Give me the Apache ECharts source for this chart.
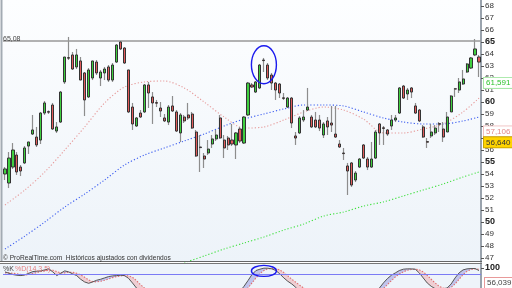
<!DOCTYPE html>
<html><head><meta charset="utf-8">
<script src="https://cdn.jsdelivr.net/npm/echarts@6/dist/echarts.min.js"></script>
<style>html,body{margin:0;padding:0;background:#fff}#c{width:512px;height:288px}</style>
</head><body><div id="c"></div>
<script>
// ---- data ----
const categories = Array.from({length:120},(_,i)=>String(i+1));
const open = [54.0,53.25,54.58,55.58,54.58,54.92,56.33,57.33,57.08,56.83,
59.08,59.2,59.75,57.58,58.33,61.67,63.7,63.92,62.92,63.42,
62.42,60.42,62.0,63.33,62.0,62.42,62.92,61.83,63.33,65.0,
64.5,62.67,59.58,58.0,59.08,59.17,61.42,60.42,59.95,59.5,
58.67,58.33,59.67,59.17,57.42,58.75,58.92,59.0,57.5,56.25,
55.5,55.75,56.5,56.92,58.67,56.83,57.0,56.83,56.42,57.75,
56.58,58.92,61.42,60.83,61.17,63.5,63.08,62.25,61.58,61.5,
60.35,59.58,60.33,57.17,57.42,58.5,59.33,58.75,58.5,58.5,
57.25,58.42,58.25,57.33,56.5,55.75,54.67,54.92,53.5,54.58,
56.42,55.25,54.58,55.33,58.17,57.85,57.67,58.0,58.5,59.08,
61.33,60.67,61.17,59.67,59.33,57.92,56.7,57.17,57.42,58.2,
57.75,57.5,59.17,61.1,61.0,61.5,62.5,62.83,63.92,63.75];
const close = [54.42,55.33,56.0,54.17,54.25,56.17,56.67,57.67,56.42,59.08,
59.92,59.15,57.75,57.92,60.83,63.75,63.65,62.75,63.92,61.83,
60.17,62.67,63.42,62.42,62.5,62.75,61.83,63.08,64.75,64.42,
63.25,59.17,58.17,58.67,58.75,61.42,60.75,59.92,59.9,59.25,
58.42,59.58,59.25,57.58,58.92,58.42,58.67,57.83,55.5,56.2,
55.25,56.08,56.92,57.25,57.0,56.17,56.42,56.5,57.42,56.75,
58.75,61.58,61.25,61.67,63.08,63.45,62.0,61.58,61.0,60.75,
60.3,60.33,58.25,57.0,58.67,58.75,59.58,57.92,57.92,57.83,
58.17,57.92,58.08,57.08,56.25,55.7,54.25,53.08,54.08,55.25,
55.33,54.58,55.25,57.5,57.42,57.8,57.33,58.5,58.67,61.17,
60.33,61.0,60.83,59.08,58.42,57.08,56.65,57.5,57.83,58.15,
57.08,58.75,60.5,61.08,61.67,61.92,63.17,63.67,64.42,63.33];
const low = [53.5,52.83,54.42,53.92,53.83,54.83,55.67,57.25,56.25,56.5,
58.92,59.0,57.67,57.42,58.25,61.5,63.5,62.67,62.75,61.83,
58.83,60.33,61.83,62.25,61.33,61.83,61.67,61.67,63.25,64.33,
63.17,59.08,57.67,57.92,58.67,59.08,59.5,58.17,59.58,58.75,
58.33,58.08,59.17,57.5,56.67,58.25,58.5,57.75,55.42,54.17,
54.5,55.58,56.17,56.75,56.92,55.33,56.0,56.33,55.25,56.58,
56.5,58.83,61.17,60.75,61.08,62.5,61.83,61.0,60.17,60.33,
60.17,59.5,57.83,56.42,57.33,58.33,59.25,57.83,57.83,57.58,
57.0,57.25,57.5,57.0,56.17,55.17,52.25,52.92,53.33,54.5,
55.25,54.33,54.5,55.25,56.42,56.42,57.17,57.67,58.33,59.0,
60.25,60.17,60.33,59.0,58.33,57.0,56.17,57.0,57.25,57.5,
56.67,57.5,59.17,60.42,60.75,61.42,62.42,62.75,63.83,62.08];
const high = [54.58,55.83,56.58,55.83,54.75,56.33,56.67,58.92,57.92,59.17,
60.08,59.3,59.92,58.33,60.92,63.75,65.42,64.17,64.42,63.75,
62.5,62.83,63.42,63.5,62.67,62.92,63.08,63.25,64.83,65.08,
64.58,62.67,59.92,58.75,59.33,61.5,61.67,60.83,60.17,60.0,
59.0,59.75,60.5,59.33,59.08,58.92,59.92,59.17,57.67,57.25,
55.75,56.83,57.25,57.67,58.92,57.25,57.17,58.17,57.5,57.92,
58.83,61.67,61.58,61.75,63.17,63.67,63.25,62.42,61.67,61.58,
60.75,60.42,60.42,57.5,58.83,59.33,61.17,58.92,59.17,58.92,
58.33,58.75,59.67,59.67,56.83,56.17,54.92,55.0,54.25,55.33,
56.5,55.42,56.67,57.67,58.25,58.0,57.75,58.92,58.92,61.25,
61.42,61.17,61.25,59.92,59.42,58.08,57.0,58.17,58.08,58.33,
58.33,59.17,60.58,61.17,62.0,62.67,63.25,63.75,65.25,63.92];

// moving averages read at sampled candles
const maIdx   = [0,5,10,15,20,25,30,35,40,45,50,55,60,65,70,75,80,85,90,95,100,105,110,115,119];
const maRed   = [51.42,52.67,54.17,56.0,57.92,59.92,61.25,61.67,61.75,61.17,60.0,58.75,57.83,57.92,58.5,59.17,59.58,59.33,58.58,57.42,57.42,57.75,58.17,59.17,60.33];
const maBlue  = [47.75,48.83,50.0,51.25,52.33,53.5,54.75,55.58,56.17,56.75,57.33,58.0,58.58,59.0,59.42,59.75,59.75,59.67,59.17,58.67,58.33,58.17,58.17,58.42,58.75];
const maGreen = [null,null,null,null,null,null,null,null,null,46.6,47.17,47.75,48.25,48.75,49.33,49.83,50.5,50.83,51.33,51.67,52.17,52.67,53.17,53.75,54.17];

// stochastic %K / %D
const stochK = [88,84,80,78,77,79,84,89,90,91, 94,97,88,77,84,91,88,82,77,66,
58,54,58,63,66,70,74,76,77,78, 77,69,55,40,30,28,32,35,33,30,
28,25,27,26,20,22,24,25,20,12, 10,8,10,14,18,20,16,15,18,30,
45,62,80,92,96,99,99,97,92,82, 70,60,52,42,30,28,32,38,36,34,
30,32,34,36,30,22,15,10,8,10, 15,20,22,28,40,55,68,78,85,92,
96,97,97,96,85,70,55,45,38,36, 38,40,52,70,85,94,97,98,98,92];
const stochD = [85,85,84,82,80,79,80,83,86,89, 91,93,93,89,85,85,87,87,84,79,
72,64,59,58,60,63,67,71,74,76, 77,76,72,62,50,40,33,31,32,32,
31,29,27,26,25,23,23,23,23,20, 16,12,10,10,12,15,17,17,17,20,
28,40,55,70,83,92,97,98,97,94, 86,76,66,57,48,40,34,32,33,35,
34,33,32,33,33,30,25,19,13,10, 10,13,17,22,28,38,50,62,73,82,
88,93,95,96,94,88,78,66,55,45, 40,38,42,52,66,80,90,95,97,96];

const priceTicks = [47,48,49,50,51,52,53,54,55,56,57,58,59,60,61,62,63,64,65,66,67,68];
const refLevel = 65.08;
const lastLabels = [{text:'61,591', v:61.591}, {text:'57,106', v:57.55}, {text:'56,640', v:56.64}];

// ---- build ----
const FONT = 'Liberation Sans, Arial, sans-serif';
const bodyData = open.map((o,i)=>[o, close[i], Math.min(o,close[i]), Math.max(o,close[i])]);
const wickData = open.map((o,i)=>[o, close[i], low[i], high[i]]);
const pairs = vals => maIdx.map((ix,j)=> vals[j]==null?null:[ix, vals[j]]).filter(Boolean);
const stBase = stochK.map((k,i)=>Math.min(k, stochD[i]));
const stUp = stochK.map((k,i)=>Math.max(k-stochD[i],0));
const stDn = stochK.map((k,i)=>Math.max(stochD[i]-k,0));

const chart = echarts.init(document.getElementById('c'));
const maLine = (name,data,color)=>({type:'line', name, data:pairs(data), xAxisIndex:0, yAxisIndex:0,
  showSymbol:false, symbol:'none', connectNulls:true, smooth:0.3, z:3,
  lineStyle:{color, width:1.1, type:[1.2,2]}});

chart.setOption({
  animation:false,
  backgroundColor:'#ffffff',
  grid:[{left:3,right:31,top:0,height:262},{left:3,right:31,top:264.5,height:24.5}],
  xAxis:[
    {type:'category',data:categories,gridIndex:0,boundaryGap:true,show:false},
    {type:'category',data:categories,gridIndex:1,boundaryGap:true,show:false}
  ],
  yAxis:[
    {type:'value',gridIndex:0,position:'right',min:46.6667,max:68.5,
     axisLine:{show:true,lineStyle:{color:'#9aa3ad',width:2}},
     axisTick:{show:true,length:3,customValues:priceTicks,lineStyle:{color:'#555'}},
     splitLine:{show:false},
     axisLabel:{customValues:priceTicks,margin:4,color:'#333',fontFamily:FONT,
       formatter:v=> (v%5===0?'{b|'+v+'}':'{n|'+v+'}'),
       rich:{b:{fontSize:9,fontWeight:'bold',color:'#222',fontFamily:FONT},n:{fontSize:8,color:'#333',fontFamily:FONT}}}},
    {type:'value',gridIndex:1,position:'right',min:40,max:110,
     axisLine:{show:true,lineStyle:{color:'#9aa3ad',width:2}},
     axisTick:{show:true,length:3,customValues:[100],lineStyle:{color:'#555'}},
     splitLine:{show:false},
     axisLabel:{customValues:[100],margin:4,color:'#222',fontSize:9,fontWeight:'bold',fontFamily:FONT}}
  ],
  series:[
    {type:'candlestick',name:'wick',data:wickData,xAxisIndex:0,yAxisIndex:0,barWidth:1,z:4,
     itemStyle:{color:'#8d8d8d',color0:'#8d8d8d',borderColor:'#8d8d8d',borderColor0:'#8d8d8d',borderWidth:1.2},
     markLine:{symbol:'none',silent:true,label:{show:false},
       lineStyle:{color:'#999',width:1.6,type:'solid'},data:[{yAxis:refLevel}]}},
    {type:'candlestick',name:'body',data:bodyData,xAxisIndex:0,yAxisIndex:0,barWidth:2.6,z:5,
     itemStyle:{color:'#3fcf3f',color0:'#e25b5b',borderColor:'#333',borderColor0:'#333',borderWidth:1}},
    maLine('ma1',maRed,'#e69a9a'),
    maLine('ma2',maBlue,'#3d5ef0'),
    maLine('ma3',maGreen,'#3fe03f'),
    {type:'line',data:stBase,xAxisIndex:1,yAxisIndex:1,stack:'st',symbol:'none',lineStyle:{opacity:0},z:2},
    {type:'line',data:stUp,xAxisIndex:1,yAxisIndex:1,stack:'st',symbol:'none',lineStyle:{opacity:0},
     areaStyle:{color:'rgba(120,120,215,0.55)'},z:2},
    {type:'line',data:stDn,xAxisIndex:1,yAxisIndex:1,stack:'st',symbol:'none',lineStyle:{opacity:0},
     areaStyle:{color:'rgba(240,160,165,0.65)'},z:2},
    {type:'line',data:stochD,xAxisIndex:1,yAxisIndex:1,symbol:'none',z:3,
     lineStyle:{color:'#e07070',width:1.1,type:[1.5,1.5]}},
    {type:'line',data:stochK,xAxisIndex:1,yAxisIndex:1,symbol:'none',z:4,
     lineStyle:{color:'#555',width:1},
     markLine:{symbol:'none',silent:true,label:{show:false},lineStyle:{color:'#7b7bf5',width:1,type:'solid'},data:[{yAxis:80}]}}
  ]
});

const p0 = chart.convertToPixel({xAxisIndex:0,yAxisIndex:0},[65,63.1]);
const p1 = chart.convertToPixel({xAxisIndex:1,yAxisIndex:1},[65,91]);
const g = [
  {type:'rect',z:-5,shape:{x:2,y:0,width:480,height:262},
   style:{fill:new echarts.graphic.LinearGradient(0,0,0,1,[{offset:0,color:'#fdfeff'},{offset:1,color:'#edf3f9'}])}},
  {type:'rect',z:-5,shape:{x:0,y:263,width:482,height:25},style:{fill:'#eef4fa'}},
  {type:'line',z:10,shape:{x1:1.5,y1:0,x2:1.5,y2:262},style:{stroke:'#a3abb3',lineWidth:2}},
  {type:'line',z:10,shape:{x1:0,y1:261.5,x2:482,y2:261.5},style:{stroke:'#666',lineWidth:1}},
  {type:'line',z:10,shape:{x1:0,y1:263.5,x2:482,y2:263.5},style:{stroke:'#777',lineWidth:1}},
  {type:'text',z:10,x:3,y:39,style:{text:'65,08',fill:'#444',fontSize:7,fontFamily:FONT,verticalAlign:'middle'}},
  {type:'text',z:10,x:3,y:258.5,style:{text:'© ProRealTime.com  Históricos ajustados con dividendos',fill:'#333',fontSize:6.6,fontFamily:FONT,verticalAlign:'middle'}},
  {type:'text',z:10,x:3,y:269.5,style:{text:'%K',fill:'#444',fontSize:7,fontFamily:FONT,verticalAlign:'middle'}},
  {type:'text',z:10,x:15,y:269.5,style:{text:'%D(14,3,5)',fill:'#e58080',fontSize:7,fontFamily:FONT,verticalAlign:'middle'}},
  {type:'ellipse',z:20,shape:{cx:p0[0],cy:p0[1],rx:12.5,ry:19},style:{fill:'none',stroke:'#1a1aee',lineWidth:1.4}},
  {type:'ellipse',z:20,shape:{cx:p1[0],cy:p1[1],rx:12.5,ry:5.5},style:{fill:'none',stroke:'#1a1aee',lineWidth:1.4}}
];
const lbl = (t,v,fill,bg,border)=>{const py=chart.convertToPixel({yAxisIndex:0},v);
  return {type:'text',z:30,x:484,y:py,style:{text:t,fill,fontSize:8,fontFamily:FONT,verticalAlign:'middle',
    backgroundColor:bg,borderColor:border,borderWidth:1,padding:[1,2,1,2]}};};
g.push(lbl(lastLabels[0].text,lastLabels[0].v,'#2cc22c','#ffffff','#a6e8a6'));
g.push(lbl(lastLabels[1].text,lastLabels[1].v,'#e08888','#ffffff','#f0c0c0'));
g.push(lbl(lastLabels[2].text,lastLabels[2].v,'#333','#ffd400','#c9a400'));
g.push({type:'text',z:30,x:485,y:283,style:{text:'56,039',fill:'#444',fontSize:8,fontFamily:FONT,verticalAlign:'middle',
  backgroundColor:'#fff',borderColor:'#e89a9a',borderWidth:1,borderType:'dashed',padding:[1,2,1,2]}});
chart.setOption({graphic:g});
</script></body></html>
